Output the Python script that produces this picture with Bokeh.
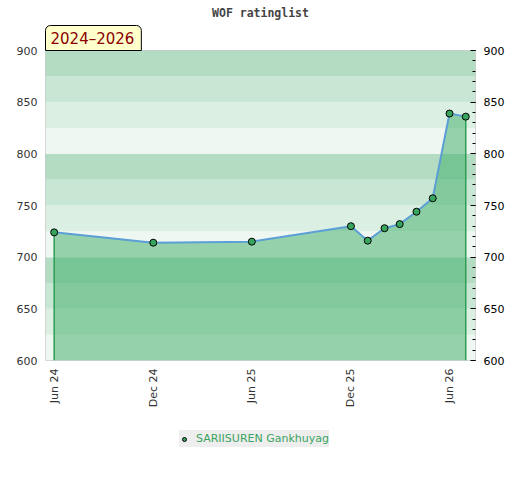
import pandas as pd
from bokeh.plotting import figure
from bokeh.layouts import column
from bokeh.models import (Range1d, LinearAxis, FixedTicker, DatetimeTickFormatter,
                          BoxAnnotation, Title, Legend, LegendItem, ColumnDataSource)
from bokeh.embed import file_html
from bokeh.resources import INLINE
from math import pi

# ---- data ----
dates = ["2024-06-01", "2024-12-01", "2025-06-01", "2025-12-01", "2026-01-01",
         "2026-02-01", "2026-03-01", "2026-04-01", "2026-05-01", "2026-06-01",
         "2026-07-01"]
ratings = [724, 714, 715, 730, 716, 728, 732, 744, 757, 839, 836]
tick_dates = ["2024-06-01", "2024-12-01", "2025-06-01", "2025-12-01", "2026-06-01"]
player = "SARIISUREN Gankhuyag"
title_text = "WOF ratinglist"
period_text = "2024\u20132026"
y_min, y_max = 600, 900
x_start, x_end = "2024-05-16", "2026-07-19"

band_bottoms = [600, 625, 650, 675, 700, 725, 750, 775, 800, 825, 850, 875]
band_colors = ["#eef7f1", "#dcefe3", "#c8e6d4", "#b3dcc3"] * 3

marker_style = dict(size=7, fill_color="#37a55e", line_color="black", line_width=1)

x = pd.to_datetime(dates)
src = ColumnDataSource(dict(x=x, y=ratings, base=[y_min] * len(ratings)))

p = figure(frame_width=430, frame_height=310, output_backend="svg",
           toolbar_location=None, x_axis_type="datetime",
           x_range=Range1d(pd.Timestamp(x_start), pd.Timestamp(x_end)),
           y_range=Range1d(y_min, y_max),
           min_border_left=45, min_border_right=37, min_border_top=50,
           min_border_bottom=60, background_fill_color="white",
           border_fill_color="white", outline_line_color="#cccccc")
p.xgrid.visible = False
p.ygrid.visible = False

for b, c in zip(band_bottoms, band_colors):
    p.add_layout(BoxAnnotation(bottom=b, top=b + 25, fill_color=c, fill_alpha=1.0,
                               line_color=None, level="underlay"))

p.varea(x="x", y1="base", y2="y", source=src, fill_color="#3cae66", fill_alpha=0.5)
edge = ColumnDataSource(dict(x=[x[0], x[-1]], y0=[y_min, y_min],
                             y1=[ratings[0], ratings[-1]]))
p.segment(x0="x", y0="y0", x1="x", y1="y1", source=edge, line_color="#2e9e55",
          line_width=1.5)
p.line(x="x", y="y", source=src, line_color="#5b9fd6", line_width=2)
p.scatter(x="x", y="y", source=src, **marker_style)

# axes
xa = p.xaxis[0]
xa.ticker = FixedTicker(ticks=[pd.Timestamp(d).value / 1e6 for d in tick_dates])
fmt = "%b %y"
xa.formatter = DatetimeTickFormatter(days=fmt, months=fmt, years=fmt)
xa.major_label_orientation = pi / 2
xa.axis_line_color = None
xa.major_tick_line_color = None
xa.minor_tick_line_color = None
xa.major_tick_in = 0
xa.major_tick_out = 0
xa.minor_tick_out = 0
xa.major_label_standoff = 8
xa.major_label_text_font = "DejaVu Sans"
xa.major_label_text_font_size = "11px"
xa.major_label_text_color = "#333333"

ya = p.yaxis[0]
ya.ticker = FixedTicker(ticks=list(range(y_min, y_max + 1, 50)))
ya.axis_line_color = None
ya.major_tick_line_color = None
ya.minor_tick_line_color = None
ya.major_tick_out = 0
ya.minor_tick_out = 0
ya.major_label_standoff = 8
ya.major_label_text_font = "DejaVu Sans"
ya.major_label_text_font_size = "11px"
ya.major_label_text_color = "#333333"

ra = LinearAxis(ticker=FixedTicker(ticks=list(range(y_min, y_max + 1, 50)),
                                   minor_ticks=list(range(y_min, y_max + 1, 10))))
ra.axis_line_color = None
ra.major_tick_in = 5
ra.major_tick_out = 0
ra.minor_tick_in = 3
ra.minor_tick_out = 0
ra.major_tick_line_color = "black"
ra.minor_tick_line_color = "black"
ra.major_label_standoff = 8
ra.major_label_text_font = "DejaVu Sans"
ra.major_label_text_font_size = "11px"
ra.major_label_text_color = "black"
p.add_layout(ra, "right")

# title and period box
p.title.text = title_text
p.title.align = "center"
p.title.text_font = "DejaVu Sans Mono"
p.title.text_font_style = "bold"
p.title.text_font_size = "11.5px"
p.title.text_color = "#444444"
p.title.standoff = 7

period = Title(text=period_text, align="left", text_font="DejaVu Sans",
               text_font_size="15px", text_font_style="normal",
               text_color="#8b0000", background_fill_color="#ffffcc",
               border_line_color="black", border_line_width=1,
               padding=dict(left=5, right=7, top=4, bottom=3),
               border_radius=dict(top_left=5, top_right=5,
                                  bottom_left=0, bottom_right=0),
               standoff=0)
p.add_layout(period, "above")

# legend in its own strip below the chart
lf = figure(width=512, height=60, output_backend="svg", toolbar_location=None,
            x_range=Range1d(0, 1), y_range=Range1d(0, 1), min_border=0,
            outline_line_color=None, background_fill_color="white",
            border_fill_color="white")
lf.axis.visible = False
lf.grid.visible = False
proxy = lf.scatter(x="x", y="y", source=src, **marker_style)
legend = Legend(items=[LegendItem(label=player, renderers=[proxy], index=0)],
                location=(134, 33), orientation="horizontal",
                background_fill_color="#eeeeee", background_fill_alpha=1.0,
                border_line_color=None, label_text_font="DejaVu Sans",
                label_text_font_size="11px", label_text_color="#3aa35f",
                glyph_width=10, glyph_height=10, label_height=17, padding=7,
                margin=0, label_standoff=7)
lf.add_layout(legend, "center")

layout = column(p, lf, spacing=0)
open("out.html", "w").write(file_html(layout, INLINE))
